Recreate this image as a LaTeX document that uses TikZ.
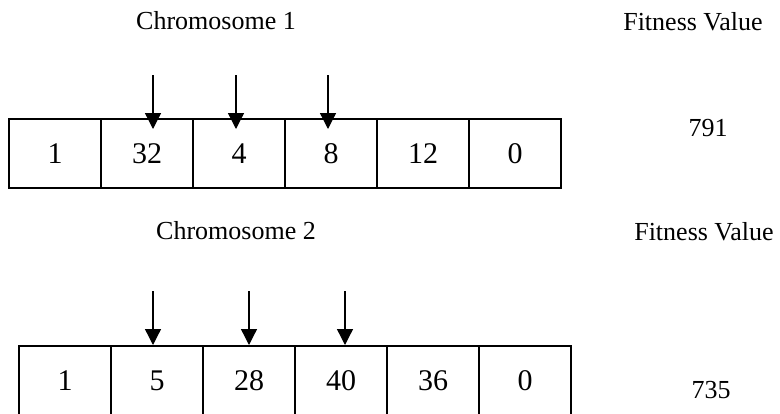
\documentclass[tikz,border=0pt]{standalone}
\usepackage{fontspec}
\setmainfont{Liberation Serif}
\usetikzlibrary{arrows.meta}

\begin{document}
\begin{tikzpicture}[x=1pt, y=-1pt,
            cell/.style={draw, line width=1.2pt, minimum width=92pt, minimum height=69pt, inner sep=0pt, text height=20pt, text depth=0pt, font=\fontsize{30}{33}\selectfont},
            lbl/.style={inner sep=0pt, font=\fontsize{26}{30}\selectfont},
            cut/.style={line width=1.3pt, -{Triangle[length=16pt, width=16pt]}}]
            \useasboundingbox (0,0) rectangle (780,413);
            % first chromosome
            \node[lbl] (chromA) at (216,21) {Chromosome 1};
            \node[lbl] (fitA) at (693,22) {Fitness Value};
            \foreach \v [count=\i] in {1,32,4,8,12,0}
                \node[cell] (a\i) at ({55+92*(\i-1)},153.5) {\v};
            \node[lbl] (valA) at (708,128) {791};
            \foreach \x [count=\i] in {153,236,328} {
                \coordinate (sa\i) at (\x,75); \coordinate (ta\i) at (\x,129);
                \draw[cut] (sa\i) -- (ta\i);
            }
            % second chromosome
            \node[lbl] (chromB) at (236,231) {Chromosome 2};
            \node[lbl] (fitB) at (704,232) {Fitness Value};
            \foreach \v [count=\i] in {1,5,28,40,36,0}
                \node[cell] (b\i) at ({65+92*(\i-1)},380.5) {\v};
            \node[lbl] (valB) at (711,390) {735};
            \foreach \x [count=\i] in {153,249,345} {
                \coordinate (sb\i) at (\x,291); \coordinate (tb\i) at (\x,345);
                \draw[cut] (sb\i) -- (tb\i);
            }
        \end{tikzpicture}
\end{document}
